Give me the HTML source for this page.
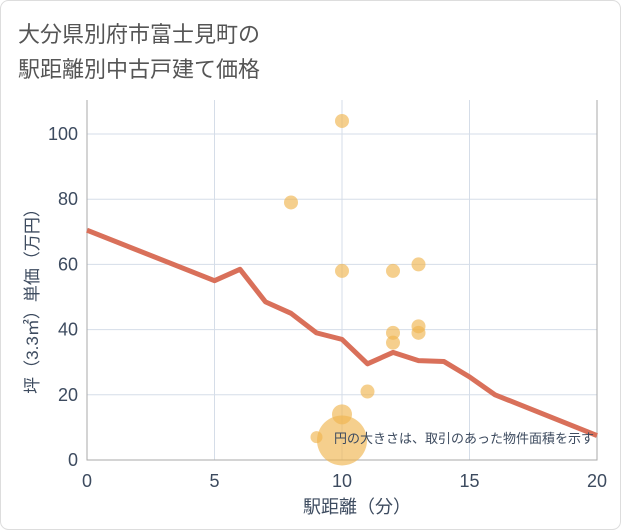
<!DOCTYPE html>
<html><head><meta charset="utf-8"><style>
body{margin:0;background:#fff;}
svg{display:block;font-family:"Liberation Sans","Noto Sans CJK JP",sans-serif;}
</style></head><body>
<svg id="c" width="621" height="530">
<rect x="0.5" y="0.5" width="620" height="529" rx="8" fill="#fff" stroke="#ddd"/>
<text x="18" y="42" font-size="22" fill="#555">大分県別府市富士見町の</text>
<text x="18" y="77" font-size="22" fill="#555">駅距離別中古戸建て価格</text>
<g id="grid"></g>
<g id="marks"></g>
<text x="357" y="513" font-size="18" fill="#3d4b5f" text-anchor="middle">駅距離（分）</text>
<text transform="translate(38,297) rotate(-90)" font-size="17" fill="#3d4b5f" text-anchor="middle">坪（3.3㎡）単価（万円）</text>
<text x="594" y="443" font-size="13" fill="#3d4b5f" text-anchor="end">円の大きさは、取引のあった物件面積を示す</text>
</svg>
<script>
const xTicks=[0,5,10,15,20];
const yTicks=[0,20,40,60,80,100];
const lineX=[0,5,6,7,8,9,10,11,12,13,14,15,16,20];
const lineY=[70.5,55,58.5,48.5,45,39,37,29.5,33,30.5,30.2,25.5,20,7.5];
const ptX=[8,10,10,12,13,13,13,12,12,11,10,10,9];
const ptY=[79,104,58,58,60,41,39,39,36,21,14,6,7];
const ptR=[7,7,7,7,7,7,7,7,7,7,10,25,6];
const X0=87,X1=597,Y0=460,Y1=134;
const sx=v=>X0+(X1-X0)*v/20, sy=v=>Y0-(Y0-Y1)*v/100;
const NS="http://www.w3.org/2000/svg";
function mk(t,a,p){const e=document.createElementNS(NS,t);for(const k in a)e.setAttribute(k,a[k]);p.appendChild(e);return e;}
const g=document.getElementById('grid'),m=document.getElementById('marks');
xTicks.forEach(v=>{
 const l=mk('line',{x1:sx(v),x2:sx(v),y1:Y1-34,y2:Y0,stroke:'#d5dde8'},g);
 
 
 const t=mk('text',{x:sx(v),y:Y0+27,'font-size':18,fill:'#3d4b5f','text-anchor':'middle'},g);t.textContent=v;
 
 
});
yTicks.forEach(v=>{
 const l=mk('line',{x1:X0,x2:X1,y1:sy(v),y2:sy(v),stroke:'#d5dde8'},g);
 
 
 const t=mk('text',{x:X0-9,y:sy(v)+6,'font-size':18,fill:'#3d4b5f','text-anchor':'end'},g);t.textContent=v;
 
 
});
const ax=mk('path',{d:`M${X0},${Y1-34}V${Y0}H${X1}V${Y1-34}`,stroke:'#aaa',fill:'none'},g);


ptX.forEach((v,i)=>{
 const c=mk('circle',{cx:sx(v),cy:sy(ptY[i]),r:ptR[i],fill:'#f0b550',opacity:0.65},m);
 
 
});
const p=mk('polyline',{points:lineX.map((v,i)=>sx(v)+','+sy(lineY[i])).join(' '),fill:'none',stroke:'#d9705a','stroke-width':5,'stroke-linejoin':'round'},m);


</script>
</body></html>
